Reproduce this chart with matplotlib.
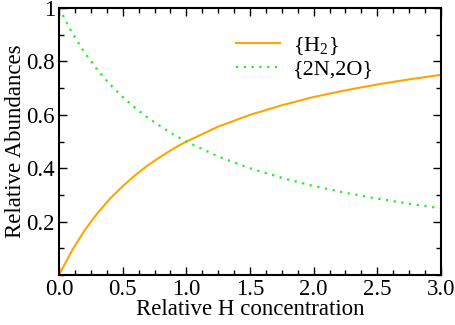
import numpy as np
import matplotlib
matplotlib.use("Agg")
import matplotlib.pyplot as plt
from matplotlib.ticker import MultipleLocator, FixedLocator

# values
conc = [0.0, 0.1, 0.2, 0.3, 0.4, 0.5, 0.6, 0.7, 0.8, 0.9, 1.0,
        1.25, 1.5, 1.75, 2.0, 2.25, 2.5, 2.75, 3.0]
h2 = [0.0, 0.091, 0.167, 0.231, 0.286, 0.333, 0.375, 0.412, 0.444, 0.474, 0.5,
      0.556, 0.6, 0.636, 0.667, 0.692, 0.714, 0.733, 0.75]
n2o = [1.0, 0.909, 0.833, 0.769, 0.714, 0.667, 0.625, 0.588, 0.556, 0.526, 0.5,
       0.444, 0.4, 0.364, 0.333, 0.308, 0.286, 0.267, 0.25]
xticks = [0.0, 0.5, 1.0, 1.5, 2.0, 2.5, 3.0]
xticklabels = ["0.0", "0.5", "1.0", "1.5", "2.0", "2.5", "3.0"]
yticks = [0.2, 0.4, 0.6, 0.8, 1.0]
yticklabels = ["0.2", "0.4", "0.6", "0.8", "1"]

plt.rcParams["font.family"] = ["Liberation Serif", "DejaVu Serif"]
plt.rcParams["mathtext.fontset"] = "custom"
plt.rcParams["mathtext.rm"] = "Liberation Serif"

fig = plt.figure(figsize=(4.55, 3.25), dpi=100)
ax = fig.add_axes([0.130, 0.154, 0.839, 0.821])

ax.plot(conc, h2, color="#ffa500", lw=1.5, label=r"{H$_2$}")
ax.plot(conc, n2o, color="#22ee22", lw=1.6, linestyle=(0, (1, 2.5)), label="{2N,2O}")

ax.set_xlim(0, 3.0)
ax.set_ylim(0, 1)
ax.xaxis.set_major_locator(FixedLocator(xticks))
ax.xaxis.set_minor_locator(MultipleLocator(0.125))
ax.yaxis.set_major_locator(FixedLocator(yticks))
ax.yaxis.set_minor_locator(MultipleLocator(0.1))
ax.set_xticklabels(xticklabels)
ax.set_yticklabels(yticklabels)
ax.tick_params(which="both", direction="in", top=True, right=True, labelsize=16.5, width=1)
ax.tick_params(which="major", length=6, pad=3)
ax.tick_params(which="minor", length=3.5)
for s in ax.spines.values():
    s.set_linewidth(1.5)

ax.set_xlabel("Relative H concentration", fontsize=16.5, labelpad=-1)
ax.set_ylabel("Relative Abundances", fontsize=16.5, labelpad=0)

ax.legend(loc="upper left", bbox_to_anchor=(0.41, 0.975), frameon=False, fontsize=16,
          handlelength=2.0, handletextpad=0.6, labelspacing=0.1)

fig.savefig("out.png", dpi=100)
